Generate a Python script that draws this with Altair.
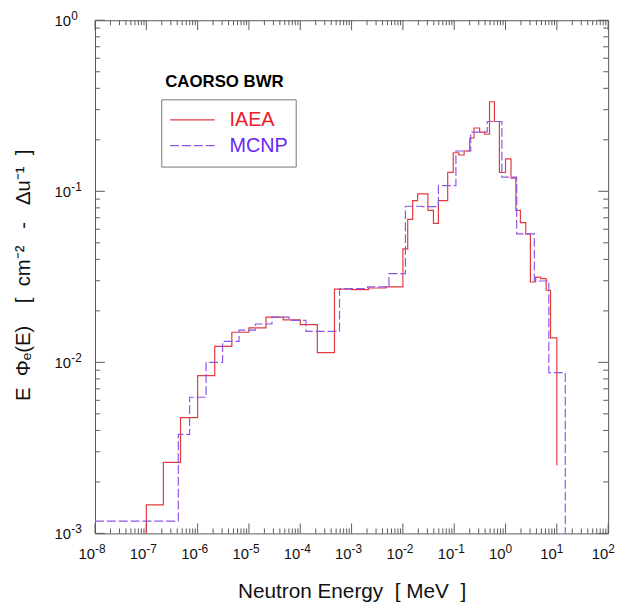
import altair as alt
import pandas as pd

# ---- data (bin lower edges [MeV] and E*Phi values) ----
IAEA_E = [1e-7, 1e-7, 2.15e-7, 4.64e-7, 1.0e-6, 2.15e-6, 4.64e-6, 1.0e-5, 2.15e-5, 4.64e-5,
          1.0e-4, 2.15e-4, 4.64e-4, 1.0e-3, 2.15e-3, 4.64e-3, 1.0e-2, 1.24e-2, 1.55e-2, 1.94e-2,
          3.07e-2, 3.94e-2, 4.92e-2, 7.46e-2, 9.57e-2, 0.123, 0.156, 0.201, 0.243, 0.313,
          0.39, 0.4875, 0.608, 0.76, 1.0, 1.28, 1.59, 1.95, 2.48, 3.05,
          3.87, 4.83, 6.19, 7.53, 10.0]
IAEA_V = [1e-3, 1.47e-3, 2.60e-3, 4.75e-3, 8.36e-3, 0.0124, 0.0150, 0.0159, 0.0184, 0.0177,
          0.0166, 0.0114, 0.0268, 0.0266, 0.0272, 0.0276, 0.0461, 0.0686, 0.0883, 0.0967,
          0.0773, 0.0650, 0.0883, 0.129, 0.168, 0.163, 0.172, 0.205, 0.2345, 0.222,
          0.2156, 0.334, 0.256, 0.1288, 0.1546, 0.1195, 0.0773, 0.0656, 0.0562, 0.0295,
          0.0315, 0.0309, 0.0264, 0.0139, 0.0025]

MCNP_E = [1e-8, 4.2e-7, 6.98e-7, 1.46e-6, 3.06e-6, 6.41e-6, 1.34e-5, 2.81e-5, 6.03e-5, 1.29e-4,
          5.82e-4, 2.05e-3, 5.35e-3, 1.12e-2, 2.36e-2, 4.92e-2, 0.108, 0.21, 0.44, 0.849,
          1.65, 3.64, 6.98, 14.6]
MCNP_V = [1.18e-3, 3.79e-3, 6.25e-3, 0.0100, 0.01328, 0.01543, 0.01676, 0.01839, 0.01761, 0.01518,
          0.0270, 0.0276, 0.0330, 0.0818, 0.0813, 0.108, 0.172, 0.222, 0.256, 0.121,
          0.0564, 0.0299, 0.00872, 1e-3]

SERIES = ["IAEA", "MCNP"]
X_DECADES = list(range(-8, 3))
Y_DECADES = list(range(-3, 1))
MINOR_MULT = [2, 3, 4, 5, 6, 7, 8, 9]

RED = "#e23a3e"
PURPLE = "#8f55e6"
RED_TXT = "#e8202a"
PURPLE_TXT = "#6a28f0"
FRAME = "#5a5a5a"
TXT = "#111111"
FONT = "Liberation Sans"
W = H = 519
NB = "\u00a0"  # non-collapsing space for the wide spacing of the titles

X_TITLE = "Neutron Energy" + NB * 2 + "[" + NB + "MeV" + NB * 2 + "]"
Y_TITLE = ("E" + NB * 2 + "\u03a6\u2091(E)" + NB * 4 + "[" + NB * 2 + "cm\u207b\u00b2" + NB * 3
           + "-" + NB * 3 + "\u0394u\u207b\u00b9" + NB * 2 + "]")

rows = []
for name, es, vs in (("IAEA", IAEA_E, IAEA_V), ("MCNP", MCNP_E, MCNP_V)):
    for i, (e, v) in enumerate(zip(es, vs)):
        rows.append({"series": name, "E": e, "phi": v, "i": i})
df = pd.DataFrame(rows)

x_scale = alt.Scale(type="log", domain=[1e-8, 1e2], nice=False)
y_scale = alt.Scale(type="log", domain=[1e-3, 1], nice=False)

AX_COMMON = dict(grid=False, ticks=False, domain=False, labels=False, titleFont=FONT,
                 titleColor=TXT, titleFontWeight="normal")

X_ENC = alt.X("E:Q", scale=x_scale, title=X_TITLE,
              axis=alt.Axis(values=[10.0 ** k for k in X_DECADES], titleFontSize=21,
                            titleY=65, titleBaseline="alphabetic", **AX_COMMON))
Y_ENC = alt.Y("phi:Q", scale=y_scale, title=Y_TITLE,
              axis=alt.Axis(values=[10.0 ** k for k in Y_DECADES], titleFontSize=20.5,
                            titleX=-62, titleY=H / 2 - 2, **AX_COMMON))

legend = alt.Legend(title=None, orient="none", legendX=67, legendY=80, direction="vertical",
                    symbolType="stroke", symbolSize=2025, symbolStrokeWidth=1.2, clipHeight=25.6,
                    labelFont=FONT, labelFontSize=20, labelOffset=14, padding=8, rowPadding=0,
                    strokeColor="#777777", fillColor="white",
                    labelColor=alt.ExprRef(expr=f"datum.label === 'IAEA' ? '{RED_TXT}' : '{PURPLE_TXT}'"))

lines = alt.Chart(df).mark_line(interpolate="step-after", strokeWidth=1.2, clip=True).encode(
    x=X_ENC,
    y=Y_ENC,
    color=alt.Color("series:N", scale=alt.Scale(domain=SERIES, range=[RED, PURPLE]), legend=legend),
    strokeDash=alt.StrokeDash("series:N", scale=alt.Scale(domain=SERIES, range=[[1, 0], [9, 3]]),
                              legend=legend),
    order=alt.Order("i:Q"),
)

# ---- tick marks (inward, all four sides) ----
x_major = pd.DataFrame({"E": [10.0 ** k for k in X_DECADES]})
x_minor = pd.DataFrame({"E": [m * 10.0 ** k for k in X_DECADES[:-1] for m in MINOR_MULT]})
y_major = pd.DataFrame({"phi": [10.0 ** k for k in Y_DECADES]})
y_minor = pd.DataFrame({"phi": [m * 10.0 ** k for k in Y_DECADES[:-1] for m in MINOR_MULT]})

tick_layers = []
for d, ln in ((x_major, 10), (x_minor, 5)):
    tick_layers.append(alt.Chart(d).mark_rule(color=FRAME, strokeWidth=1).encode(
        x=X_ENC, y=alt.value(H), y2=alt.value(H - ln)))
    tick_layers.append(alt.Chart(d).mark_rule(color=FRAME, strokeWidth=1).encode(
        x=X_ENC, y=alt.value(0), y2=alt.value(ln)))
for d, ln in ((y_major, 10), (y_minor, 5)):
    tick_layers.append(alt.Chart(d).mark_rule(color=FRAME, strokeWidth=1).encode(
        y=Y_ENC, x=alt.value(0), x2=alt.value(ln)))
    tick_layers.append(alt.Chart(d).mark_rule(color=FRAME, strokeWidth=1).encode(
        y=Y_ENC, x=alt.value(W), x2=alt.value(W - ln)))

# ---- tick labels: "10" with raised exponent ----
x_lab = pd.DataFrame({"E": [10.0 ** k for k in X_DECADES], "base": ["10"] * len(X_DECADES),
                      "exp": [str(k) for k in X_DECADES]})
y_lab = pd.DataFrame({"phi": [10.0 ** k for k in Y_DECADES], "base": ["10"] * len(Y_DECADES),
                      "exp": [str(k) for k in Y_DECADES]})

label_layers = [
    alt.Chart(x_lab).mark_text(align="right", baseline="alphabetic", font=FONT, fontSize=15,
                               color=TXT).encode(x=X_ENC, y=alt.value(H + 26), text="base:N"),
    alt.Chart(x_lab).mark_text(align="left", baseline="alphabetic", font=FONT, fontSize=12,
                               color=TXT).encode(x=X_ENC, y=alt.value(H + 20), text="exp:N"),
    alt.Chart(y_lab).mark_text(align="left", baseline="alphabetic", font=FONT, fontSize=15,
                               color=TXT, dy=5.5).encode(y=Y_ENC, x=alt.value(-41), text="base:N"),
    alt.Chart(y_lab).mark_text(align="left", baseline="alphabetic", font=FONT, fontSize=12,
                               color=TXT, dy=0).encode(y=Y_ENC, x=alt.value(-24), text="exp:N"),
]

title_df = pd.DataFrame({"t": ["CAORSO BWR"]})
title_txt = alt.Chart(title_df).mark_text(align="left", baseline="alphabetic", font=FONT,
                                          fontSize=17, fontWeight="bold", color="black").encode(
    text="t:N", x=alt.value(71), y=alt.value(68))

chart = alt.layer(*tick_layers, *label_layers, lines, title_txt).properties(
    width=W, height=H,
    background="white",
    padding={"left": 88, "top": 9, "right": 14, "bottom": 68},
    autosize=alt.AutoSizeParams(type="none"),
).configure_view(stroke=FRAME, strokeWidth=1).configure_axis(
    ticks=False, domain=False, grid=False, titleFont=FONT,
    titleColor=TXT, titleFontWeight="normal",
)

chart.save("out.html", embed_options={"renderer": "svg", "actions": False})
